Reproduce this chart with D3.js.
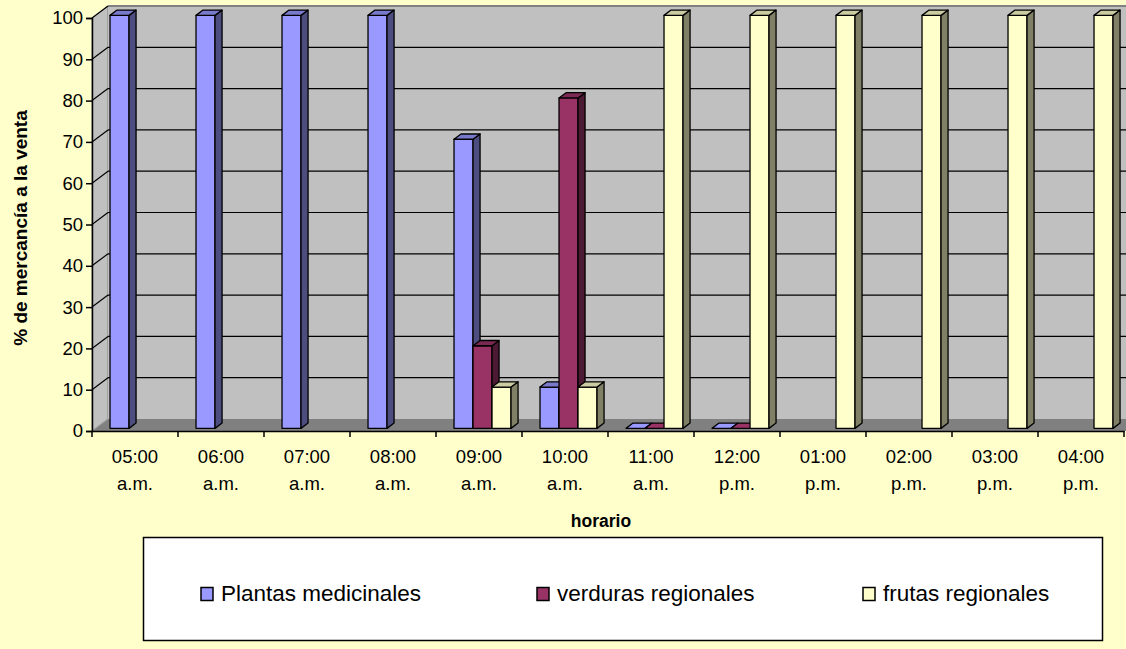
<!DOCTYPE html>
<html>
<head>
<meta charset="utf-8">
<script src="https://cdn.jsdelivr.net/npm/d3@7"></script>
<style>
  html, body { margin: 0; padding: 0; background: #FFFFCC; }
  svg { display: block; }
  text { font-family: "Liberation Sans", Arial, sans-serif; fill: #000; }
</style>
</head>
<body>
<script>
// Hourly share of goods on sale, by product type
const categories = ["05:00 a.m.", "06:00 a.m.", "07:00 a.m.", "08:00 a.m.", "09:00 a.m.", "10:00 a.m.",
                    "11:00 a.m.", "12:00 p.m.", "01:00 p.m.", "02:00 p.m.", "03:00 p.m.", "04:00 p.m."];
const seriesNames = ["Plantas medicinales", "verduras regionales", "frutas regionales"];
const plantas  = [100, 100, 100, 100, 70, 10, 0, 0, null, null, null, null];
const verduras = [null, null, null, null, 20, 80, 0, 0, null, null, null, null];
const frutas   = [null, null, null, null, 10, 10, 100, 100, 100, 100, 100, 100];
const yTicks = [0, 10, 20, 30, 40, 50, 60, 70, 80, 90, 100];
const seriesColors = ["#9999FF", "#993366", "#FFFFCC"];

const seriesValues = [plantas, verduras, frutas];

const W = 1126, H = 649;
const svg = d3.select("body").append("svg").attr("width", W).attr("height", H);
svg.append("rect").attr("width", W).attr("height", H).attr("fill", "#FFFFCC");

// 3D frame: front plane and the depth offset of the back wall
const plotLeft = 92, plotRight = 1124, plotBottom = 431, plotTop = 18;
const DX = 16, DY = -12;

const x = d3.scaleBand().domain(categories).range([plotLeft, plotRight]);
const xs = d3.scaleBand().domain(seriesNames).range([14.5, x.bandwidth() - 14.5]);
const y = d3.scaleLinear().domain([0, 100]).range([plotBottom, plotTop]);

const pt = (px, py, f) => [px + DX * f, py + DY * f];
const poly = pts => "M" + pts.map(p => p.join(",")).join("L") + "Z";

const g = svg.append("g");
// side wall
g.append("path")
  .attr("d", poly([[plotLeft, y(0)], [plotLeft, y(100)], pt(plotLeft, y(100), 1), pt(plotLeft, y(0), 1)]))
  .attr("fill", "#C0C0C0").attr("stroke", "#808080").attr("stroke-width", 1);
// back wall
g.append("path")
  .attr("d", poly([pt(plotLeft, y(0), 1), pt(plotLeft, y(100), 1), pt(plotRight + 40, y(100), 1), pt(plotRight + 40, y(0), 1)]))
  .attr("fill", "#C0C0C0");
g.append("line")
  .attr("x1", plotLeft + DX).attr("x2", W).attr("y1", y(100) + DY).attr("y2", y(100) + DY)
  .attr("stroke", "#808080").attr("stroke-width", 2);
// floor
g.append("path")
  .attr("d", poly([[plotLeft, y(0)], pt(plotLeft, y(0), 1), pt(plotRight + 40, y(0), 1), [plotRight + 40, y(0)]]))
  .attr("fill", "#808080");

// gridlines: back wall horizontals and side-wall diagonals
yTicks.filter(t => t > 0 && t < 100).forEach(t => {
  g.append("line")
    .attr("x1", plotLeft + DX).attr("x2", W).attr("y1", y(t) + DY).attr("y2", y(t) + DY)
    .attr("stroke", "#000").attr("stroke-width", 1.2);
});
yTicks.filter(t => t > 0).forEach(t => {
  g.append("line")
    .attr("x1", plotLeft).attr("y1", y(t)).attr("x2", plotLeft + DX).attr("y2", y(t) + DY)
    .attr("stroke", "#000").attr("stroke-width", 1.2);
});
g.append("line")
  .attr("x1", plotLeft).attr("y1", y(0)).attr("x2", plotLeft + DX).attr("y2", y(0) + DY)
  .attr("stroke", "#A0A0A0").attr("stroke-width", 1);

// bars: front face, right side and top
const f0 = 0.22, f1 = 0.66;
const bars = svg.append("g");
const styleEdge = p => p.attr("stroke", "#000").attr("stroke-width", 1.3).attr("stroke-linejoin", "round");
categories.forEach((c, ci) => {
  seriesNames.forEach((s, si) => {
    const v = seriesValues[si][ci];
    if (v === null || v === undefined) return;
    const x0 = x(c) + xs(s), x1 = x0 + xs.bandwidth();
    const yb = y(0), yt = y(v);
    const col = d3.rgb(seriesColors[si]);
    const sideCol = d3.rgb(col.r * 0.5, col.g * 0.5, col.b * 0.5);
    const topCol = d3.rgb(col.r * 0.8, col.g * 0.8, col.b * 0.8);
    const front = [pt(x0, yb, f0), pt(x0, yt, f0), pt(x1, yt, f0), pt(x1, yb, f0)];
    const side  = [pt(x1, yb, f0), pt(x1, yt, f0), pt(x1, yt, f1), pt(x1, yb, f1)];
    const topF  = [pt(x0, yt, f0), pt(x0, yt, f1), pt(x1, yt, f1), pt(x1, yt, f0)];
    if (v > 0) {
      styleEdge(bars.append("path").attr("d", poly(front)).attr("fill", col));
      styleEdge(bars.append("path").attr("d", poly(side)).attr("fill", sideCol));
    }
    styleEdge(bars.append("path").attr("d", poly(topF)).attr("fill", v > 0 ? topCol : col));
  });
});

// y axis
const yAxis = svg.append("g").attr("transform", `translate(${plotLeft},0)`)
  .call(d3.axisLeft(y).tickValues(yTicks).tickSize(6).tickPadding(3).tickFormat(d3.format("d")));
yAxis.select(".domain").attr("stroke", "#000").attr("stroke-width", 1.5);
yAxis.selectAll(".tick line").attr("stroke", "#000").attr("stroke-width", 1.5);
yAxis.selectAll(".tick text").attr("font-size", 18.5).attr("font-family", "Liberation Sans, Arial, sans-serif")
  .attr("fill", "#000");

// x axis
const xAxis = svg.append("g").attr("transform", `translate(0,${plotBottom})`)
  .call(d3.axisBottom(x).tickSize(0).tickFormat(""));
xAxis.select(".domain").attr("stroke", "#000").attr("stroke-width", 1.5);
const xt = svg.append("g");
[plotLeft].concat(categories.map(c => x(c) + x.bandwidth())).forEach(px => {
  xt.append("line").attr("x1", px).attr("x2", px).attr("y1", plotBottom).attr("y2", plotBottom + 6)
    .attr("stroke", "#000").attr("stroke-width", 1.5);
});
categories.forEach(c => {
  const [hh, ap] = c.split(" ");
  const cx = x(c) + x.bandwidth() / 2;
  xt.append("text").attr("x", cx).attr("y", 463).attr("text-anchor", "middle")
    .attr("font-size", 18.5).text(hh);
  xt.append("text").attr("x", cx).attr("y", 490).attr("text-anchor", "middle")
    .attr("font-size", 18.5).text(ap);
});

// axis titles
svg.append("text").attr("x", 601).attr("y", 527).attr("text-anchor", "middle")
  .attr("font-size", 17.5).attr("font-weight", "bold").text("horario");
svg.append("text").attr("transform", "translate(27,228) rotate(-90)").attr("text-anchor", "middle")
  .attr("font-size", 19).attr("font-weight", "bold").text("% de mercancía a la venta");

// legend
const lg = svg.append("g");
lg.append("rect").attr("x", 143.5).attr("y", 537.5).attr("width", 959).attr("height", 103)
  .attr("fill", "#FFFFFF").attr("stroke", "#000").attr("stroke-width", 1.5);
const legendX = [201, 537, 863];
seriesNames.forEach((s, i) => {
  lg.append("rect").attr("x", legendX[i]).attr("y", 587.5).attr("width", 12).attr("height", 13)
    .attr("fill", seriesColors[i]).attr("stroke", "#000").attr("stroke-width", 1.5);
  lg.append("text").attr("x", legendX[i] + 20).attr("y", 601).attr("font-size", 22.5).text(s);
});
</script>
</body>
</html>
